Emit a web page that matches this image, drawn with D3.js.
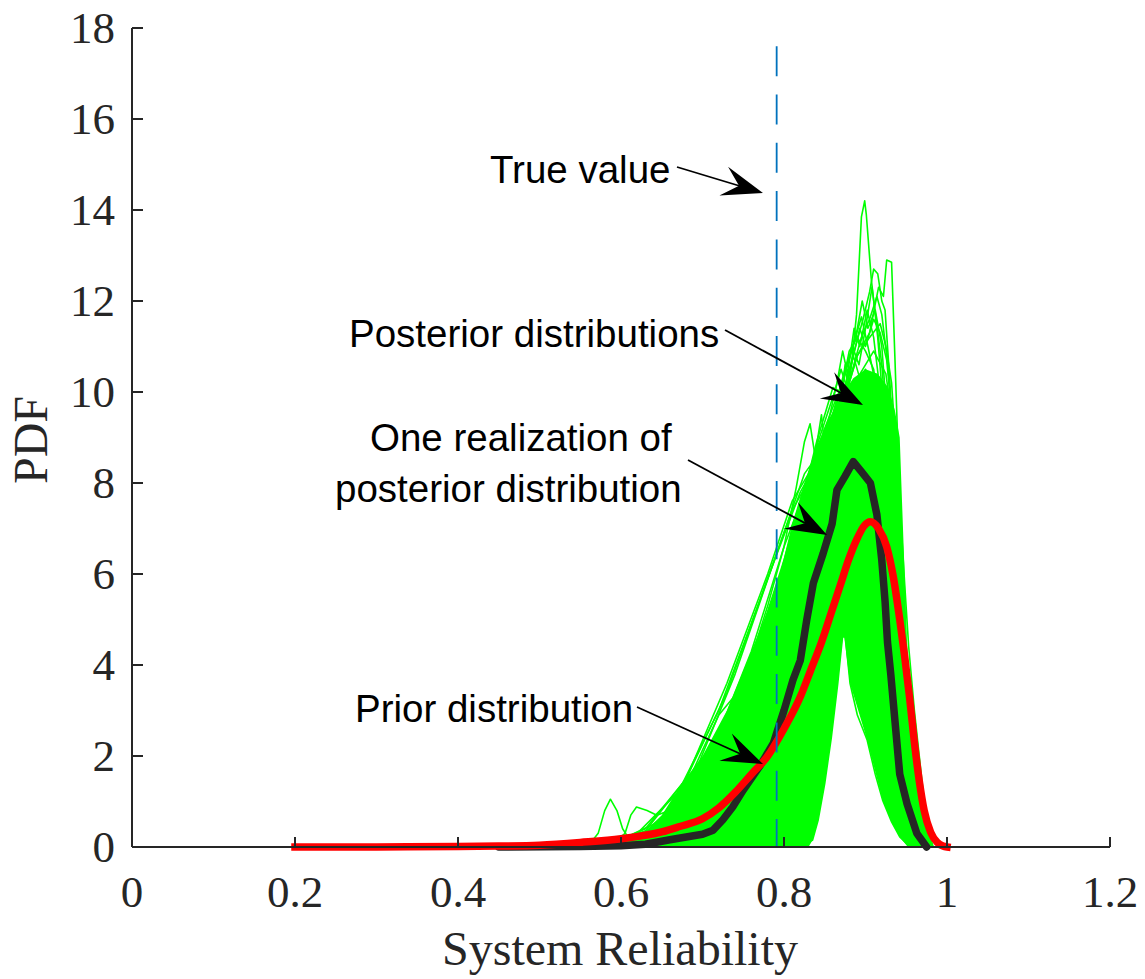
<!DOCTYPE html>
<html><head><meta charset="utf-8">
<script src="https://cdn.jsdelivr.net/npm/d3@7"></script>
<style>body{margin:0;background:#fff}svg{display:block}</style>
</head><body>
<svg id="chart" width="1145" height="979"></svg>
<script>
// ---------- data ----------
const xTicks = [0, 0.2, 0.4, 0.6, 0.8, 1, 1.2];
const yTicks = [0, 2, 4, 6, 8, 10, 12, 14, 16, 18];
const xLabel = "System Reliability";
const yLabel = "PDF";
const trueValue = 0.791;
const trueValueTop = 17.6;

// prior distribution (red)
const priorCurve = [[0.2,0],[0.3,0.002],[0.4,0.01],[0.45,0.02],[0.5,0.04],[0.55,0.1],[0.6,0.18],[0.65,0.33],[0.672,0.45],[0.7,0.62],[0.72,0.86],[0.74,1.2],[0.76,1.6],[0.78,2.0],[0.8,2.6],[0.82,3.3],[0.832,3.85],[0.846,4.5],[0.858,5.15],[0.869,5.75],[0.879,6.3],[0.889,6.75],[0.898,7.05],[0.906,7.15],[0.916,7.0],[0.926,6.6],[0.934,5.95],[0.942,5.0],[0.948,4.2],[0.954,3.3],[0.96,2.3],[0.966,1.45],[0.972,0.8],[0.98,0.32],[0.988,0.1],[0.995,0.02],[1.0,0]];

// one realization of posterior distribution (black)
const realizationCurve = [[0.45,0],[0.55,0.01],[0.6,0.03],[0.63,0.06],[0.66,0.16],[0.68,0.22],[0.7,0.28],[0.713,0.37],[0.725,0.6],[0.737,0.88],[0.75,1.25],[0.77,1.77],[0.787,2.28],[0.8,3.0],[0.811,3.67],[0.82,4.1],[0.828,5.0],[0.836,5.8],[0.848,6.45],[0.859,7.1],[0.865,7.85],[0.875,8.15],[0.885,8.47],[0.895,8.25],[0.906,8.0],[0.914,7.3],[0.92,6.3],[0.924,5.4],[0.927,4.5],[0.931,3.8],[0.936,2.8],[0.942,1.6],[0.951,0.95],[0.963,0.3],[0.975,0]];

// dense band of posterior distributions (upper outline) and the empty gap under its peak
const posteriorCore = [[0.56,0],[0.6,0.12],[0.63,0.35],[0.65,0.7],[0.675,1.4],[0.7,2.0],[0.73,3.0],[0.76,4.3],[0.78,5.2],[0.795,6.0],[0.81,7.1],[0.825,8.0],[0.84,8.8],[0.855,9.4],[0.87,9.9],[0.885,10.3],[0.9,10.5],[0.915,10.4],[0.928,10.1],[0.936,9.6],[0.942,9.0],[0.945,7.5],[0.948,6.0],[0.951,4.5],[0.956,3.2],[0.963,2.3],[0.97,1.1],[0.975,0.44],[0.983,0]];
const posteriorGap = [[0.872,4.6],[0.866,3.6],[0.858,2.4],[0.85,1.4],[0.842,0.6],[0.835,0.15],[0.83,0],[0.952,0],[0.942,0.22],[0.932,0.55],[0.921,1.03],[0.902,2.35],[0.881,3.6],[0.874,4.6]];

// individual posterior distributions (green)
const posteriorCurves = [
 [[0.58,0],[0.64,0.2],[0.7,0.9],[0.75,2.4],[0.8,5.0],[0.84,7.8],[0.865,9.6],[0.881,10.3],[0.889,11.7],[0.895,13.85],[0.899,14.2],[0.901,13.9],[0.907,12.5],[0.915,11.2],[0.925,9.0],[0.935,6.0],[0.945,3.0],[0.955,1.2],[0.965,0.3],[0.975,0]],
 [[0.6,0],[0.66,0.3],[0.72,1.2],[0.77,3.0],[0.82,6.2],[0.86,9.0],[0.89,10.8],[0.905,11.3],[0.916,12.3],[0.922,12.1],[0.926,12.9],[0.932,12.85],[0.936,10.8],[0.939,9.2],[0.943,7.0],[0.948,4.8],[0.955,2.6],[0.963,1.2],[0.972,0.35],[0.982,0]],
 [[0.59,0],[0.65,0.25],[0.71,1.1],[0.76,2.9],[0.81,5.8],[0.85,8.4],[0.88,10.5],[0.897,11.6],[0.905,12.2],[0.91,12.7],[0.915,12.6],[0.92,12.0],[0.924,11.8],[0.93,10.2],[0.937,7.8],[0.945,5.0],[0.953,2.6],[0.962,1.0],[0.972,0.25],[0.98,0]],
 [[0.6,0],[0.66,0.35],[0.72,1.5],[0.77,3.5],[0.82,6.8],[0.855,9.2],[0.875,10.5],[0.886,11.1],[0.895,11.65],[0.903,11.0],[0.912,10.2],[0.922,8.2],[0.932,5.8],[0.942,3.3],[0.952,1.5],[0.962,0.45],[0.972,0]],
 [[0.61,0],[0.67,0.3],[0.73,1.3],[0.78,3.4],[0.83,6.8],[0.87,9.6],[0.895,11.2],[0.905,11.6],[0.914,12.1],[0.92,11.7],[0.928,10.5],[0.935,8.5],[0.943,5.6],[0.952,2.9],[0.96,1.3],[0.97,0.35],[0.98,0]],
 [[0.58,0],[0.64,0.3],[0.7,1.4],[0.75,3.5],[0.8,6.2],[0.835,8.2],[0.86,9.0],[0.868,9.6],[0.875,10.6],[0.881,9.6],[0.89,9.8],[0.9,9.3],[0.91,8.2],[0.92,6.5],[0.93,4.4],[0.94,2.5],[0.95,1.0],[0.96,0.25],[0.97,0]],
 [[0.57,0],[0.63,0.35],[0.68,1.5],[0.73,3.6],[0.78,6.0],[0.81,7.6],[0.83,8.2],[0.838,8.6],[0.846,9.5],[0.852,8.4],[0.862,8.9],[0.875,8.6],[0.89,7.5],[0.905,5.8],[0.92,3.8],[0.935,2.0],[0.948,0.8],[0.96,0.15],[0.97,0]],
 [[0.58,0],[0.64,0.4],[0.69,1.6],[0.74,3.8],[0.79,6.4],[0.825,8.2],[0.845,8.7],[0.852,8.6],[0.858,9.4],[0.864,8.7],[0.875,8.6],[0.89,7.8],[0.905,6.2],[0.92,4.2],[0.935,2.2],[0.948,0.9],[0.96,0.2],[0.97,0]],
 [[0.57,0],[0.62,0.3],[0.67,1.2],[0.72,3.0],[0.77,5.4],[0.81,7.4],[0.835,8.2],[0.85,8.4],[0.86,7.6],[0.866,6.4],[0.872,5.2],[0.881,3.6],[0.89,2.9],[0.902,2.35],[0.912,1.6],[0.921,1.03],[0.932,0.55],[0.942,0.22],[0.955,0]],
 [[0.76,0],[0.8,0.02],[0.82,0.05],[0.835,0.15],[0.842,0.6],[0.85,1.4],[0.858,2.4],[0.866,3.6],[0.874,5.0],[0.882,6.6],[0.891,8.0],[0.9,9.0],[0.91,9.3],[0.92,8.6],[0.93,6.8],[0.94,4.5],[0.95,2.4],[0.96,0.9],[0.97,0.2],[0.98,0]],
 [[0.54,0],[0.56,0.03],[0.572,0.3],[0.58,0.8],[0.587,1.05],[0.595,0.8],[0.602,0.4],[0.607,0.26],[0.62,0.22],[0.64,0.35],[0.66,0.6],[0.69,1.2],[0.72,2.2],[0.76,4.0],[0.8,6.2],[0.84,8.0],[0.87,8.9],[0.89,8.6],[0.91,7.0],[0.925,5.0],[0.94,2.6],[0.952,1.0],[0.962,0.25],[0.972,0]],
 [[0.56,0],[0.59,0.08],[0.605,0.3],[0.612,0.7],[0.619,0.88],[0.632,0.8],[0.644,0.7],[0.656,0.78],[0.67,1.0],[0.69,1.5],[0.72,2.5],[0.76,4.3],[0.8,6.6],[0.84,8.5],[0.87,9.3],[0.895,8.9],[0.915,7.2],[0.93,5.0],[0.943,2.8],[0.955,1.1],[0.965,0.3],[0.975,0]],
 [[0.6,0],[0.63,0.2],[0.65,0.5],[0.672,1.03],[0.7,2.13],[0.72,2.9],[0.737,3.27],[0.75,3.4],[0.762,4.1],[0.79,5.6],[0.82,7.4],[0.85,8.7],[0.875,9.2],[0.895,8.6],[0.915,6.8],[0.93,4.8],[0.943,2.6],[0.955,1.0],[0.965,0.25],[0.975,0]],
 [[0.58,0],[0.62,0.15],[0.65,0.45],[0.67,0.9],[0.685,1.45],[0.695,1.55],[0.71,1.7],[0.725,2.2],[0.745,3.1],[0.77,4.4],[0.8,6.1],[0.83,7.6],[0.86,8.6],[0.885,8.9],[0.905,7.8],[0.92,6.0],[0.935,3.8],[0.948,1.8],[0.96,0.5],[0.97,0]],
 [[0.4,0],[0.41,0.07],[0.425,0.01],[0.47,0.03],[0.485,0.08],[0.5,0.03],[0.515,0.1],[0.53,0.04],[0.545,0.09],[0.56,0.05],[0.58,0.12],[0.61,0.25],[0.64,0.5],[0.67,0.9],[0.7,1.6],[0.74,3.0],[0.78,4.9],[0.82,7.1],[0.855,8.9],[0.88,9.8],[0.9,9.5],[0.915,8.0],[0.93,5.6],[0.943,3.2],[0.955,1.3],[0.965,0.35],[0.975,0]],
 [[0.6,0],[0.66,0.5],[0.71,1.8],[0.75,3.6],[0.78,5.3],[0.8,6.6],[0.815,7.9],[0.825,8.9],[0.832,9.3],[0.838,8.6],[0.85,9.2],[0.865,9.9],[0.88,10.2],[0.895,9.9],[0.91,8.6],[0.925,6.3],[0.938,3.9],[0.95,1.8],[0.96,0.6],[0.97,0]],
 [[0.61,0],[0.67,0.4],[0.72,1.6],[0.77,3.9],[0.81,6.7],[0.84,8.9],[0.86,10.1],[0.87,10.0],[0.88,10.9],[0.89,11.2],[0.9,10.9],[0.91,10.5],[0.92,9.2],[0.93,7.2],[0.94,4.6],[0.95,2.4],[0.96,0.9],[0.97,0.2],[0.98,0]],
 [[0.63,0],[0.69,0.4],[0.74,1.6],[0.79,4.0],[0.83,6.8],[0.86,8.8],[0.89,10.3],[0.91,10.9],[0.925,10.4],[0.935,9.1],[0.942,7.6],[0.948,5.8],[0.953,4.4],[0.96,3.0],[0.966,2.0],[0.972,1.0],[0.977,0.4],[0.983,0]],
 [[0.58,0],[0.63,0.4],[0.68,1.5],[0.73,3.4],[0.78,5.9],[0.82,7.8],[0.845,8.6],[0.858,8.3],[0.866,6.6],[0.872,5.3],[0.885,4.6],[0.902,3.9],[0.915,3.0],[0.93,1.7],[0.942,0.8],[0.955,0.2],[0.965,0]],
 [[0.62,0],[0.68,0.5],[0.73,1.9],[0.78,4.3],[0.82,7.0],[0.85,9.0],[0.865,10.2],[0.872,10.9],[0.878,10.4],[0.886,11.4],[0.893,11.0],[0.902,11.8],[0.91,11.2],[0.918,10.0],[0.928,7.9],[0.938,5.2],[0.948,2.7],[0.958,1.0],[0.968,0.25],[0.978,0]],
 [[0.62,0],[0.69,0.6],[0.74,2.0],[0.79,4.6],[0.83,7.3],[0.86,9.4],[0.878,10.6],[0.888,11.2],[0.896,12.0],[0.903,11.4],[0.912,11.8],[0.92,11.0],[0.93,8.6],[0.94,5.6],[0.95,2.8],[0.96,1.0],[0.97,0.2],[0.98,0]],
 [[0.6,0],[0.67,0.5],[0.72,1.7],[0.77,3.9],[0.82,6.9],[0.85,8.9],[0.87,10.1],[0.884,11.0],[0.892,10.6],[0.9,11.4],[0.908,12.3],[0.913,11.6],[0.92,10.6],[0.93,8.3],[0.94,5.4],[0.95,2.6],[0.96,0.9],[0.97,0.2],[0.98,0]],
 [[0.64,0],[0.7,0.6],[0.75,2.1],[0.8,4.8],[0.84,7.6],[0.87,9.6],[0.89,10.8],[0.905,11.2],[0.918,11.5],[0.925,11.0],[0.932,10.2],[0.938,8.6],[0.944,6.4],[0.95,4.2],[0.958,2.3],[0.967,0.9],[0.976,0.2],[0.983,0]],
 [[0.59,0],[0.65,0.4],[0.7,1.5],[0.75,3.5],[0.8,6.3],[0.84,8.8],[0.862,10.0],[0.87,10.5],[0.877,10.1],[0.885,10.8],[0.893,10.3],[0.9,10.5],[0.91,9.8],[0.92,8.3],[0.93,6.0],[0.94,3.5],[0.95,1.6],[0.96,0.5],[0.97,0]],
 [[0.63,0],[0.69,0.5],[0.74,1.8],[0.79,4.3],[0.83,7.2],[0.86,9.3],[0.88,10.4],[0.893,11.4],[0.9,11.0],[0.91,11.6],[0.918,11.3],[0.926,10.7],[0.934,9.2],[0.941,7.0],[0.948,4.6],[0.956,2.5],[0.965,1.0],[0.975,0.2],[0.982,0]],
 [[0.5,0],[0.55,0.05],[0.6,0.15],[0.63,0.35],[0.65,0.45],[0.665,0.7],[0.68,0.65],[0.7,1.0],[0.73,2.0],[0.77,3.8],[0.81,6.0],[0.85,8.0],[0.88,9.0],[0.9,8.6],[0.92,6.7],[0.935,4.3],[0.948,2.0],[0.96,0.6],[0.97,0]],
 [[0.55,0],[0.6,0.08],[0.64,0.2],[0.66,0.3],[0.68,0.55],[0.7,0.8],[0.72,1.25],[0.75,2.3],[0.79,4.3],[0.83,6.9],[0.86,8.8],[0.885,9.6],[0.905,9.0],[0.92,7.3],[0.935,4.8],[0.948,2.4],[0.96,0.8],[0.97,0.1],[0.978,0]]
];

// annotations: label lines with anchor (data units), arrow start and tip (data units)
const annotations = [
  {lines: [["True value", 0.4393, 14.593]], from: [0.6687, 14.945], to: [0.7742, 14.374]},
  {lines: [["Posterior distributions", 0.2663, 10.989]], from: [0.7276, 11.363], to: [0.8969, 9.714]},
  {lines: [["One realization of", 0.292, 8.703], ["posterior distribution", 0.2491, 7.582]], from: [0.6822, 8.505], to: [0.8528, 6.857]},
  {lines: [["Prior distribution", 0.2736, 2.747]], from: [0.6196, 3.077], to: [0.7742, 1.824]}
];

// ---------- drawing ----------
const svg = d3.select("#chart");
const x = d3.scaleLinear().domain([0, 1.2]).range([132, 1110]);
const y = d3.scaleLinear().domain([0, 18]).range([847, 28]);
const axisColor = "#262626";

svg.append("rect").attr("width", 1145).attr("height", 979).attr("fill", "#fff");

const plot = svg.append("g");
const line = d3.line().x(d => x(d[0])).y(d => y(d[1]));

// dense band
plot.append("path")
  .attr("d", d3.area().x(d => x(d[0])).y0(y(0)).y1(d => y(d[1]))(posteriorCore))
  .attr("fill", "#00ff00");
plot.append("path")
  .attr("d", line(posteriorGap) + "Z")
  .attr("fill", "#fff");

plot.selectAll("path.post").data(posteriorCurves).join("path")
  .attr("class", "post")
  .attr("d", line)
  .attr("fill", "none")
  .attr("stroke", "#00ff00")
  .attr("stroke-width", 1.6)
  .attr("stroke-linejoin", "round");

plot.append("path")
  .attr("d", line(realizationCurve))
  .attr("fill", "none").attr("stroke", "#262626")
  .attr("stroke-width", 7.5).attr("stroke-linejoin", "round").attr("stroke-linecap", "round");

plot.append("path")
  .attr("d", d3.line().x(d => x(d[0])).y(d => y(d[1])).curve(d3.curveMonotoneX)(priorCurve))
  .attr("fill", "none").attr("stroke", "#ff0000")
  .attr("stroke-width", 7.5).attr("stroke-linejoin", "round").attr("stroke-linecap", "square");

plot.append("line")
  .attr("x1", x(trueValue)).attr("x2", x(trueValue))
  .attr("y1", y(trueValueTop)).attr("y2", y(0))
  .attr("stroke", "#0072BD").attr("stroke-width", 1.8)
  .attr("stroke-dasharray", "30,18.3");

// axes
const ax = svg.append("g").attr("stroke", axisColor).attr("stroke-width", 2);
ax.append("line").attr("x1", x(0)).attr("x2", x(1.2)).attr("y1", y(0)).attr("y2", y(0));
ax.append("line").attr("x1", x(0)).attr("x2", x(0)).attr("y1", y(0)).attr("y2", y(18));
ax.selectAll("line.xt").data(xTicks).join("line").attr("class", "xt")
  .attr("x1", d => x(d)).attr("x2", d => x(d)).attr("y1", y(0)).attr("y2", y(0) - 10);
ax.selectAll("line.yt").data(yTicks).join("line").attr("class", "yt")
  .attr("x1", x(0)).attr("x2", x(0) + 11).attr("y1", d => y(d)).attr("y2", d => y(d));

const serif = "'Liberation Serif','Times New Roman',serif";
svg.selectAll("text.xl").data(xTicks).join("text").attr("class", "xl")
  .attr("x", d => x(d)).attr("y", 907)
  .attr("text-anchor", "middle").attr("font-family", serif).attr("font-size", 45)
  .attr("fill", axisColor).text(d => d3.format("~g")(d));
svg.selectAll("text.yl").data(yTicks).join("text").attr("class", "yl")
  .attr("x", 115).attr("y", d => y(d) + 15)
  .attr("text-anchor", "end").attr("font-family", serif).attr("font-size", 45)
  .attr("fill", axisColor).text(d => d);

svg.append("text").attr("x", 620).attr("y", 965).attr("text-anchor", "middle")
  .attr("font-family", serif).attr("font-size", 48).attr("fill", axisColor).text(xLabel);
svg.append("text").attr("transform", "translate(47,440) rotate(-90)").attr("text-anchor", "middle")
  .attr("font-family", serif).attr("font-size", 48).attr("fill", axisColor).text(yLabel);

// annotations
const ann = svg.append("g");
const sans = "'Liberation Sans',Arial,sans-serif";
annotations.forEach(a => {
  a.lines.forEach(l => {
    ann.append("text").attr("x", x(l[1])).attr("y", y(l[2]))
      .attr("font-family", sans).attr("font-size", 38.5).attr("fill", "#000").text(l[0]);
  });
  const x0 = x(a.from[0]), y0 = y(a.from[1]), x1 = x(a.to[0]), y1 = y(a.to[1]);
  const len = Math.hypot(x1 - x0, y1 - y0), ux = (x1 - x0) / len, uy = (y1 - y0) / len;
  const nx = -uy, ny = ux, L = 41, W = 15, N = 25;
  ann.append("line").attr("x1", x0).attr("y1", y0).attr("x2", x1 - N * ux).attr("y2", y1 - N * uy)
    .attr("stroke", "#000").attr("stroke-width", 1.8);
  const pts = [[x1, y1], [x1 - L * ux + W * nx, y1 - L * uy + W * ny], [x1 - N * ux, y1 - N * uy], [x1 - L * ux - W * nx, y1 - L * uy - W * ny]];
  ann.append("polygon").attr("points", pts.map(p => p.join(",")).join(" ")).attr("fill", "#000");
});
</script>
</body></html>
